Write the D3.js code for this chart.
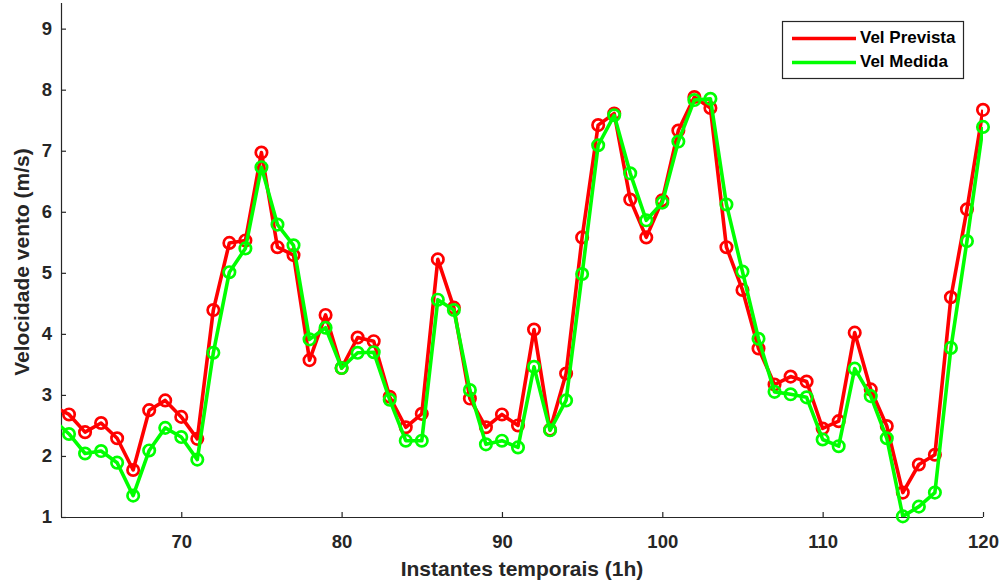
<!DOCTYPE html>
<html><head><meta charset="utf-8">
<script src="https://cdn.jsdelivr.net/npm/d3@7"></script>
<style>
html,body{margin:0;padding:0;background:#fff;}
svg{display:block;font-family:"Liberation Sans",Arial,sans-serif;font-weight:bold;}
</style></head><body>
<svg id="c" width="1001" height="583"></svg>
<script>
const instants = d3.range(62, 121);
const velPrevista = [2.82,2.68,2.39,2.54,2.29,1.77,2.75,2.91,2.64,2.28,4.39,5.49,5.53,6.97,5.42,5.29,3.57,4.31,3.44,3.94,3.88,2.97,2.47,2.69,5.22,4.43,2.94,2.47,2.68,2.50,4.07,2.43,3.35,5.58,7.42,7.61,6.20,5.58,6.19,7.33,7.88,7.70,5.42,4.72,3.76,3.17,3.30,3.22,2.45,2.57,4.02,3.09,2.49,1.40,1.86,2.02,4.60,6.04,7.67];
const velMedida = [2.60,2.36,2.04,2.08,1.89,1.35,2.09,2.46,2.31,1.94,3.69,5.01,5.40,6.73,5.79,5.45,3.91,4.10,3.44,3.69,3.70,2.92,2.25,2.25,4.56,4.39,3.08,2.19,2.25,2.14,3.46,2.42,2.91,4.98,7.09,7.58,6.63,5.86,6.15,7.15,7.83,7.85,6.12,5.02,3.92,3.05,3.01,2.96,2.27,2.16,3.43,2.98,2.29,1.01,1.17,1.40,3.77,5.52,7.39];
const xTicks = [70,80,90,100,110,120];
const yTicks = [1,2,3,4,5,6,7,8,9];
const seriesNames = ["Vel Prevista","Vel Medida"];
const seriesColors = ["#ff0000","#00ff00"];
const xLabel = "Instantes temporais (1h)";
const yLabel = "Velocidade vento (m/s)";

const svg = d3.select("#c");
const L = 61, R = 983, T = 3, B = 517;
const x = d3.scaleLinear().domain([62.5, 120]).range([L, R]);
const y = d3.scaleLinear().domain([1, 9.42]).range([B, T]);
const axisColor = "#262626";

svg.append("clipPath").attr("id","clip").append("rect")
  .attr("x", L).attr("y", T).attr("width", R - L).attr("height", B - T);

// axes
const xAxis = svg.append("g").attr("transform", `translate(0,${B})`)
  .call(d3.axisBottom(x).tickValues(xTicks).tickSizeInner(-5).tickSizeOuter(0).tickPadding(18).tickFormat(d3.format("d")));
const yAxis = svg.append("g").attr("transform", `translate(${L},0)`)
  .call(d3.axisLeft(y).tickValues(yTicks).tickSizeInner(-5).tickSizeOuter(0).tickPadding(9).tickFormat(d3.format("d")));
[xAxis, yAxis].forEach(a => {
  a.select(".domain").attr("stroke", axisColor).attr("stroke-width", 1.2);
  a.selectAll(".tick line").attr("stroke", axisColor).attr("stroke-width", 1.2);
  a.selectAll(".tick text").attr("fill", axisColor).style("font-size", "18.5px")
    .style("font-family", '"Liberation Sans",Arial,sans-serif').style("font-weight", "bold");
});
xAxis.select(".domain").attr("d", `M${L},0.5H${R}`);
yAxis.select(".domain").attr("d", `M0.5,${B}V${T}`);

// titles
svg.append("text").attr("x", (L + R) / 2).attr("y", 570).attr("text-anchor", "middle")
  .attr("dominant-baseline", "middle").attr("fill", axisColor).style("font-size", "21px").text(xLabel);
svg.append("text").attr("transform", `translate(23,${(T + B) / 2 + 2}) rotate(-90)`).attr("text-anchor", "middle")
  .attr("dominant-baseline", "middle").attr("fill", axisColor).style("font-size", "21px").text(yLabel);

// series
const allSeries = [velPrevista, velMedida];
const line = d3.line().x(d => x(d[0])).y(d => y(d[1]));
allSeries.forEach((vals, i) => {
  const pts = instants.map((t, j) => [t, vals[j]]);
  const g = svg.append("g");
  g.append("path").datum(pts).attr("clip-path", "url(#clip)").attr("d", line)
    .attr("fill", "none").attr("stroke", seriesColors[i]).attr("stroke-width", 3.6).attr("stroke-linejoin", "round");
  g.selectAll("circle").data(pts.filter(p => p[0] >= x.domain()[0])).join("circle")
    .attr("cx", d => x(d[0])).attr("cy", d => y(d[1])).attr("r", 5.7)
    .attr("fill", "none").attr("stroke", seriesColors[i]).attr("stroke-width", 2.7);
});

// legend
const lg = svg.append("g");
lg.append("rect").attr("x", 782.5).attr("y", 21.5).attr("width", 181).attr("height", 57)
  .attr("fill", "#fff").attr("stroke", axisColor).attr("stroke-width", 1.2);
seriesNames.forEach((n, i) => {
  const yy = 38.5 + i * 24;
  lg.append("line").attr("x1", 792).attr("x2", 856).attr("y1", yy).attr("y2", yy)
    .attr("stroke", seriesColors[i]).attr("stroke-width", 3.6);
  lg.append("text").attr("x", 860).attr("y", yy).attr("dominant-baseline", "middle")
    .attr("fill", "#000").style("font-size", "17px").text(n);
});
</script></body></html>
